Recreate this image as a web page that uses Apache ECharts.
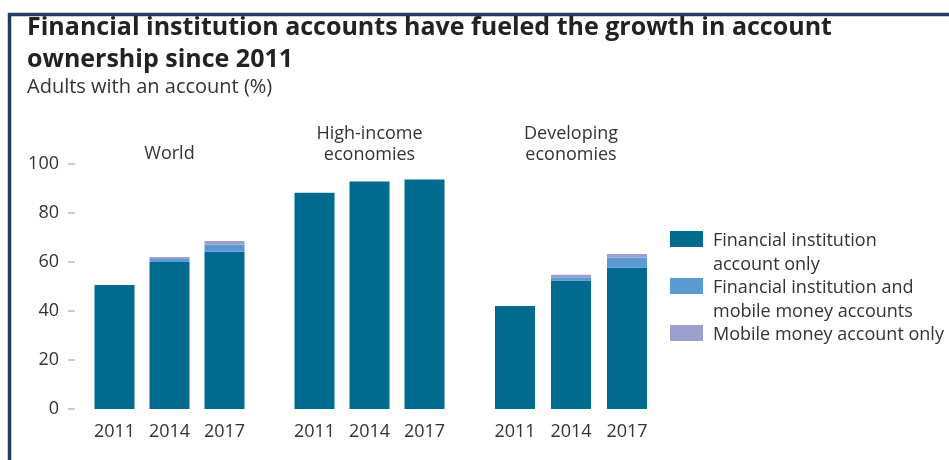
<!DOCTYPE html>
<html>
<head>
<meta charset="utf-8">
<style>
  html, body { margin: 0; padding: 0; background: #ffffff; }
  #chart { width: 949px; height: 460px; }
</style>
<script src="https://cdn.jsdelivr.net/npm/echarts@6/dist/echarts.min.js"></script>
</head>
<body>
<div id="chart"></div>
<script>
// Account ownership, adults with an account (%)
const years = ['2011', '2014', '2017'];
const groups = ['World', 'High-income\neconomies', 'Developing\neconomies'];

// Financial institution account only
const fiOnly = [
  [50.6, 60.0, 64.2],   // World
  [88.3, 92.9, 93.7],   // High-income economies
  [42.0, 52.4, 57.7]    // Developing economies
];
// Financial institution and mobile money accounts
const fiAndMobile = [
  [0.0, 1.2, 2.9],
  [0.0, 0.0, 0.0],
  [0.0, 1.4, 4.1]
];
// Mobile money account only
const mobileOnly = [
  [0.0, 0.8, 1.5],
  [0.0, 0.0, 0.0],
  [0.0, 1.0, 1.5]
];

const seriesNames = [
  'Financial institution\naccount only',
  'Financial institution and\nmobile money accounts',
  'Mobile money account only'
];
const yTicks = { min: 0, max: 100, interval: 20 };

const colors = ['#006b8f', '#5b9bd5', '#9b9fd0'];
const textColor = '#333333';
const font = 'Open Sans';

const gridLefts = [87, 287, 487];
const gridWidths = [165, 165, 168];

const grids = gridLefts.map((l, i) => ({ left: l, width: gridWidths[i], top: 164, bottom: 51 }));

const xAxes = grids.map((g, i) => ({
  type: 'category',
  gridIndex: i,
  data: years,
  axisLine: { show: false },
  axisTick: { show: false },
  axisLabel: { color: textColor, fontFamily: font, fontSize: 18, margin: 14 }
}));

const yAxes = grids.map((g, i) => ({
  type: 'value',
  gridIndex: i,
  min: yTicks.min,
  max: yTicks.max,
  interval: yTicks.interval,
  show: i === 0,
  offset: 12,
  splitLine: { show: false },
  axisLine: { show: false },
  axisTick: { show: true, length: 7, lineStyle: { color: '#bcbcbc', width: 1.5 } },
  axisLabel: { color: textColor, fontFamily: font, fontSize: 18, margin: 16 }
}));

const stacks = [fiOnly, fiAndMobile, mobileOnly];
const series = [];
groups.forEach((g, gi) => {
  stacks.forEach((arr, si) => {
    series.push({
      name: seriesNames[si],
      type: 'bar',
      stack: 'g' + gi,
      xAxisIndex: gi,
      yAxisIndex: gi,
      barWidth: 40,
      itemStyle: { color: colors[si] },
      data: arr[gi]
    });
  });
});

const groupCenters = grids.map((g, i) => g.left + g.width / 2);
const groupTitles = groups.map((name, i) => ({
  text: name,
  left: groupCenters[i],
  top: name.indexOf('\n') >= 0 ? 123 : 143,
  padding: 0,
  textAlign: 'center',
  textStyle: { color: textColor, fontFamily: font, fontSize: 18, fontWeight: 'normal', lineHeight: 21 }
}));

const legendIcon2 = 'path://M0,0h0.01v0.01h-0.01z M0,2h33v16h-33z M0,47.99h0.01v0.01h-0.01z';

const chart = echarts.init(document.getElementById('chart'), null, { renderer: 'canvas' });
chart.setOption({
  animation: false,
  title: [
    {
      text: 'Financial institution accounts have fueled the growth in account\nownership since 2011',
      left: 27, top: 12, padding: 0,
      textStyle: { color: '#222222', fontFamily: 'Open Sans', fontSize: 25, fontWeight: 'bold', lineHeight: 32 }
    },
    {
      text: 'Adults with an account (%)',
      left: 27, top: 77, padding: 0,
      textStyle: { color: textColor, fontFamily: font, fontSize: 20, fontWeight: 'normal' }
    }
  ].concat(groupTitles),
  legend: {
    orient: 'vertical',
    left: 670,
    top: 229,
    padding: 0,
    itemWidth: 33,
    itemHeight: 48,
    itemGap: -1,
    selectedMode: false,
    data: [
      { name: seriesNames[0], icon: legendIcon2 },
      { name: seriesNames[1], icon: legendIcon2 },
      { name: seriesNames[2], icon: 'path://M0,0h0.01v0.01h-0.01z M0,2h33v16h-33z M0,23.99h0.01v0.01h-0.01z', itemHeight: 24 }
    ],
    textStyle: { color: textColor, fontFamily: font, fontSize: 18, lineHeight: 24, padding: [0, 0, 0, 5] }
  },
  grid: grids,
  xAxis: xAxes,
  yAxis: yAxes,
  series: series,
  graphic: [
    {
      type: 'polyline',
      shape: { points: [[9.5, 460], [9.5, 14.5], [949, 14.5]] },
      style: { stroke: '#243c64', lineWidth: 3.5, fill: null }
    }
  ]
});
</script>
</body>
</html>
